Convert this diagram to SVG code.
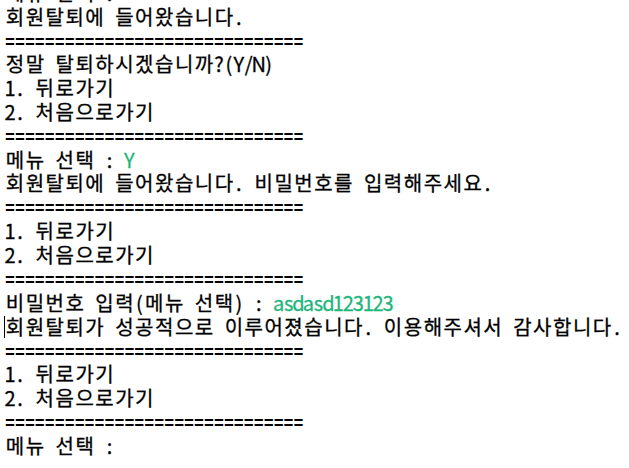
<svg xmlns="http://www.w3.org/2000/svg" xmlns:xlink="http://www.w3.org/1999/xlink" width="629" height="468" viewBox="0 0 629 468">
<style>
.t { font-family: "Noto Sans CJK KR", "Liberation Sans", sans-serif; font-size: 20px; fill: #000; stroke: #000; stroke-width: 0.3px; text-anchor: middle; }
.eq { font-family: "Liberation Mono", "DejaVu Sans Mono", monospace; font-size: 18px; font-weight: bold; fill: #000; text-anchor: start; }
.g { fill: #1DB67A; stroke: #1DB67A; }
</style>
<defs>
<text id="eq" class="eq" x="5" y="0" textLength="298.5" lengthAdjust="spacingAndGlyphs">==============================</text>
<text id="back1" class="t" x="9.98 19.93 29.88 44.8 64.7 84.6 104.5" y="0">1. 뒤로가기</text>
<text id="back2" class="t" x="9.98 19.93 29.88 44.8 64.7 84.6 104.5 124.4 144.3" y="0">2. 처음으로가기</text>
</defs>
<rect x="0" y="0" width="629" height="468" fill="#fff"/>
<g id="console">
<text class="t" x="14.95 34.85 49.78 64.7 84.6 99.53 109.48" y="0.65">메뉴 선택 :</text>
<text class="t" x="14.95 34.85 54.75 74.65 94.55 109.48 124.4 144.3 164.2 184.1 204 223.9 238.83" y="24.5">회원탈퇴에 들어왔습니다.</text>
<use xlink:href="#eq" y="47.5"/>
<text class="t" x="14.95 34.85 49.78 64.7 84.6 104.5 124.4 144.3 164.2 184.1 204 218.93 228.88 238.83 248.78 258.73 268.68" y="72.2">정말 탈퇴하시겠습니까?(Y/N)</text>
<use xlink:href="#back1" y="96.05"/>
<use xlink:href="#back2" y="119.9"/>
<use xlink:href="#eq" y="142.9"/>
<text class="t" x="14.95 34.85 49.78 64.7 84.6 99.53 109.48" y="167.6">메뉴 선택 :<tspan class="g" x="129.38">Y</tspan></text>
<text class="t" x="14.95 34.85 54.75 74.65 94.55 109.48 124.4 144.3 164.2 184.1 204 223.9 238.83 248.78 263.7 283.6 303.5 323.4 343.3 358.23 373.15 393.05 412.95 432.85 452.75 472.65 487.58" y="191.45">회원탈퇴에 들어왔습니다. 비밀번호를 입력해주세요.</text>
<use xlink:href="#eq" y="214.45"/>
<use xlink:href="#back1" y="239.15"/>
<use xlink:href="#back2" y="263"/>
<use xlink:href="#eq" y="286"/>
<text class="t" x="14.95 34.85 54.75 74.65 89.58 104.5 124.4 139.33 154.25 174.15 189.08 204 223.9 238.83 248.78 258.73" y="310.7">비밀번호 입력(메뉴 선택) :<tspan class="g" x="278.63 288.58 298.53 308.48 318.43 328.38 338.33 348.28 358.23 368.18 378.13 388.08">asdasd123123</tspan></text>
<line x1="4.5" y1="316" x2="4.5" y2="338" stroke="#000" stroke-width="1"/>
<text class="t" x="14.95 34.85 54.75 74.65 94.55 109.48 124.4 144.3 164.2 184.1 204 218.93 233.85 253.75 273.65 293.55 313.45 333.35 353.25 368.18 378.13 393.05 412.95 432.85 452.75 472.65 492.55 507.48 522.4 542.3 562.2 582.1 602 616.93" y="334.55">회원탈퇴가 성공적으로 이루어졌습니다. 이용해주셔서 감사합니다.</text>
<use xlink:href="#eq" y="357.55"/>
<use xlink:href="#back1" y="382.25"/>
<use xlink:href="#back2" y="406.1"/>
<use xlink:href="#eq" y="429.1"/>
<text class="t" x="14.95 34.85 49.78 64.7 84.6 99.53 109.48" y="453.8">메뉴 선택 :</text>
</g>
</svg>
